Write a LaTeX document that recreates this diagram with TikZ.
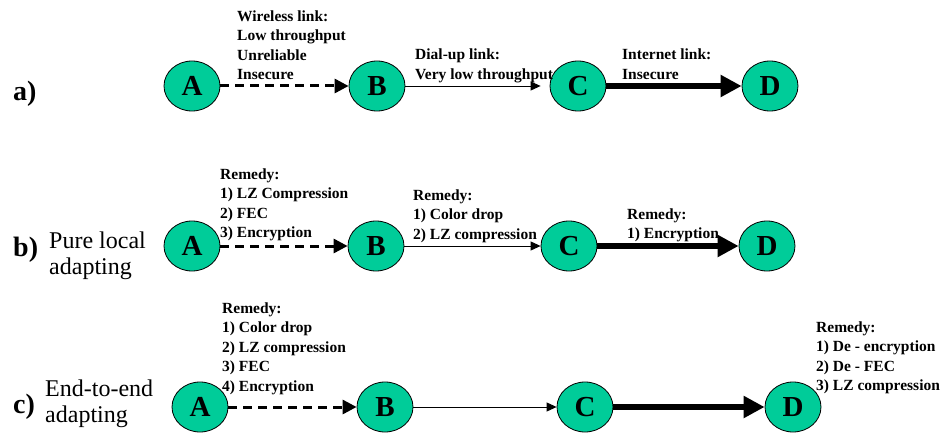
\documentclass[tikz,border=0pt]{standalone}
\usepackage{fontspec}
\setmainfont{Liberation Serif}
\usetikzlibrary{arrows.meta,shapes.geometric}
\definecolor{hostgreen}{RGB}{0,204,153}
\begin{document}
\begin{tikzpicture}[x=1pt,y=-1pt,
  host/.style={ellipse,draw=black,line width=0.8pt,fill=hostgreen,
    minimum width=56pt,minimum height=50pt,inner sep=0pt,
    font=\fontsize{29}{30}\selectfont\bfseries},
  wireless/.style={dash pattern=on 9pt off 6pt,line width=3pt,
    -{Triangle[length=14pt,width=14pt]}},
  dialup/.style={line width=0.9pt,-{Triangle[length=10pt,width=9pt]}},
  internet/.style={line width=6.5pt,-{Triangle[length=21pt,width=21pt]}},
  linklabel/.style={anchor=north west,inner sep=0pt,align=left,
    font=\fontsize{15.5}{19.5}\selectfont\bfseries},
  rowtag/.style={anchor=base west,inner sep=0pt,
    font=\fontsize{28}{30}\selectfont\bfseries},
  rowdesc/.style={anchor=north west,inner sep=0pt,align=left,
    font=\fontsize{24}{26.5}\selectfont}
]
\useasboundingbox (0,0) rectangle (948,433);
% fixed first-line heights so the north anchor sits a known distance above the first baseline
\newcommand{\fl}{\rule{0pt}{11.5pt}}
\newcommand{\fd}{\rule{0pt}{17pt}}

% ---- a) the raw path
\node[rowtag] (tagA) at (13,101) {a)};
\node[host] (a1) at (192,86) {A};
\node[host] (a2) at (377,86) {B};
\node[host] (a3) at (578,86) {C};
\node[host] (a4) at (770,86) {D};
\draw[wireless] (a1) -- (a2);
\draw[dialup,shorten >=9pt] (a2) -- (a3);
\draw[internet] (a3) -- (a4);
\node[linklabel] (la1) at (237,9.5) {\fl Wireless link:\\Low throughput\\Unreliable\\Insecure};
\node[linklabel] (la2) at (415,48) {\fl Dial-up link:\\Very low throughput};
\node[linklabel] (la3) at (622,48) {\fl Internet link:\\Insecure};

% ---- b) pure local adapting
\node[rowtag] (tagB) at (13,256) {b)};
\node[rowdesc] (descB) at (49,231) {\fd Pure local\\adapting};
\node[host] (b1) at (192,246) {A};
\node[host] (b2) at (376,246) {B};
\node[host] (b3) at (569,246) {C};
\node[host] (b4) at (767,246) {D};
\draw[wireless] (b1) -- (b2);
\draw[dialup] (b2) -- (b3);
\draw[internet] (b3) -- (b4);
\node[linklabel] (lb1) at (220,167.5) {\fl Remedy:\\1) LZ Compression\\2) FEC\\3) Encryption};
\node[linklabel] (lb2) at (413,188.5) {\fl Remedy:\\1) Color drop\\2) LZ compression};
\node[linklabel] (lb3) at (627,207.5) {\fl Remedy:\\1) Encryption};

% ---- c) end-to-end adapting
\node[rowtag] (tagC) at (13,413) {c)};
\node[rowdesc] (descC) at (45,379) {\fd End-to-end\\adapting};
\node[host] (c1) at (200,407) {A};
\node[host] (c2) at (385,407) {B};
\node[host] (c3) at (585,407) {C};
\node[host] (c4) at (793,407) {D};
\draw[wireless] (c1) -- (c2);
\draw[dialup] (c2) -- (c3);
\draw[internet] (c3) -- (c4);
\node[linklabel] (lc1) at (222,301.5) {\fl Remedy:\\1) Color drop\\2) LZ compression\\3) FEC\\4) Encryption};
\node[linklabel] (lc4) at (816,320.5) {\fl Remedy:\\1) De - encryption\\2) De - FEC\\3) LZ compression};
\end{tikzpicture}
\end{document}
